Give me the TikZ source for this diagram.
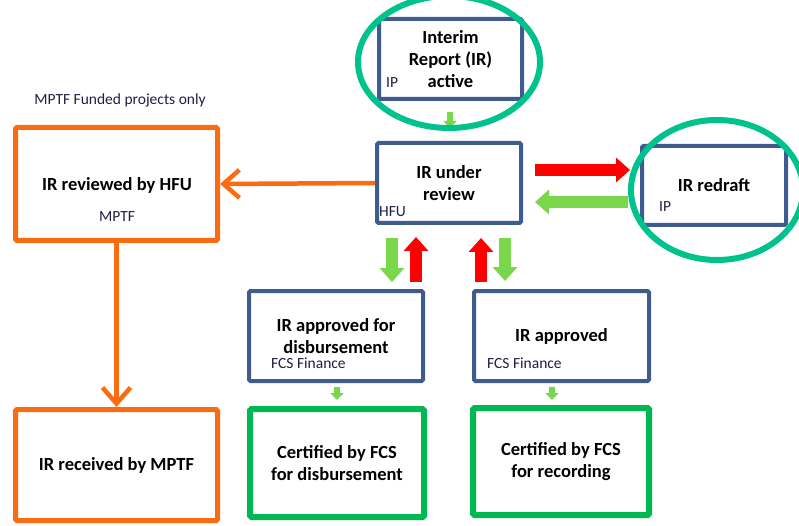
\documentclass[tikz,border=0pt]{standalone}
\usepackage{fontspec}
\setmainfont{Carlito}
\usetikzlibrary{arrows.meta,calc}

\definecolor{boxblue}{RGB}{62,92,142}
\definecolor{boxorange}{RGB}{250,108,18}
\definecolor{boxgreen}{RGB}{0,184,80}
\definecolor{arrgreen}{RGB}{122,214,74}
\definecolor{arrred}{RGB}{255,0,0}
\definecolor{ringteal}{RGB}{0,194,140}
\definecolor{labelink}{RGB}{30,30,70}

\tikzset{
  titlefont/.style={font=\bfseries\fontsize{18.5}{22}\selectfont},
  smallfont/.style={font=\fontsize{15.5}{18}\selectfont, text=labelink},
  stagebox/.style={draw, rounded corners=1.5pt, fill=white, inner sep=0pt,
    align=center, titlefont},
  bluebox/.style={stagebox, draw=boxblue, line width=4pt},
  orangebox/.style={stagebox, draw=boxorange, line width=5pt},
  greenbox/.style={stagebox, draw=boxgreen, line width=6pt},
  rolelabel/.style={smallfont, inner sep=0pt, anchor=west},
  bigarrow/.style={line width=12pt, -{Triangle[length=14pt,width=24pt]}},
  greenflow/.style={bigarrow, draw=arrgreen},
  redflow/.style={bigarrow, draw=arrred},
  tinyflow/.style={draw=arrgreen, line width=6pt, -{Triangle[length=7pt,width=13pt]}},
  orangeflow/.style={draw=boxorange, line width=4.5pt,
    -{Straight Barb[length=16pt,width=28pt,line width=4.5pt]}},
  ring/.style={draw=ringteal, line width=6pt}
}

\begin{document}
\begin{tikzpicture}[x=1pt,y=-1pt]
\useasboundingbox (0,0) rectangle (799,526);

% main stages
\node[bluebox, minimum width=143pt, minimum height=80pt] (ir) at (450.5,59)
  {Interim\\Report (IR)\\active};
\node[bluebox, minimum width=144pt, minimum height=80pt] (rev) at (449,183)
  {IR under\\review};
\node[bluebox, minimum width=144pt, minimum height=79pt] (redraft) at (714,185.5)
  {IR redraft};
\node[bluebox, minimum width=174pt, minimum height=90pt] (apd) at (336,336)
  {\fontsize{18.5}{21.5}\selectfont IR approved for\\disbursement};
\node[bluebox, minimum width=175pt, minimum height=90pt] (ap) at (561.5,336)
  {IR approved};
\node[greenbox, minimum width=174pt, minimum height=108pt] (cd) at (337,463)
  {Certified by FCS\\for disbursement};
\node[greenbox, minimum width=176pt, minimum height=107pt] (cr) at (561,461.5)
  {Certified by FCS\\for recording};
\node[orangebox, minimum width=202pt, minimum height=113pt] (hfu) at (116.5,184) {};
\node[titlefont, inner sep=0pt] (hfutitle) at (117,185) {IR reviewed by HFU};
\node[orangebox, minimum width=202pt, minimum height=111pt] (mptf) at (116.5,465)
  {IR received by MPTF};

% responsible parties
\node[rolelabel] (irrole) at (386,83) {IP};
\node[rolelabel] (revrole) at (379,212) {HFU};
\node[rolelabel] (redraftrole) at (659,207) {IP};
\node[rolelabel] (apdrole) at (271,363.5) {FCS Finance};
\node[rolelabel] (aprole) at (487,363.5) {FCS Finance};
\node[smallfont, inner sep=0pt] (hfurole) at (117,217) {MPTF};
\node[smallfont, inner sep=0pt] (note) at (120,100) {MPTF Funded projects only};

% arrow end points
\coordinate (irA) at (450,112);  \coordinate (irB) at (450,128);
\coordinate (sendA) at (535,170); \coordinate (sendB) at (630,170);
\coordinate (backA) at (628,202); \coordinate (backB) at (535,202);
\coordinate (d1A) at (392,238);  \coordinate (d1B) at (392,282);
\coordinate (u1A) at (416,282);  \coordinate (u1B) at (416,237);
\coordinate (u2A) at (481,282);  \coordinate (u2B) at (481,238);
\coordinate (d2A) at (505,238);  \coordinate (d2B) at (505,281);
\coordinate (c1A) at (337,387);  \coordinate (c1B) at (337,400);
\coordinate (c2A) at (552,387);  \coordinate (c2B) at (552,400);

% flows
\draw[tinyflow] (irA) -- (irB);
\draw[redflow] (sendA) -- (sendB);
\draw[greenflow] (backA) -- (backB);
\draw[greenflow] (d1A) -- (d1B);
\draw[redflow] (u1A) -- (u1B);
\draw[redflow] (u2A) -- (u2B);
\draw[greenflow] (d2A) -- (d2B);
\draw[tinyflow] (c1A) -- (c1B);
\draw[tinyflow] (c2A) -- (c2B);
\draw[orangeflow] (rev.west) -- (hfu.east);
\draw[orangeflow] (hfu.south) -- (mptf.north);

% highlight rings
\draw[ring] (449,62) ellipse [x radius=91pt, y radius=66pt];
\draw[ring] (717,190) ellipse [x radius=86pt, y radius=70pt];
\end{tikzpicture}
\end{document}
